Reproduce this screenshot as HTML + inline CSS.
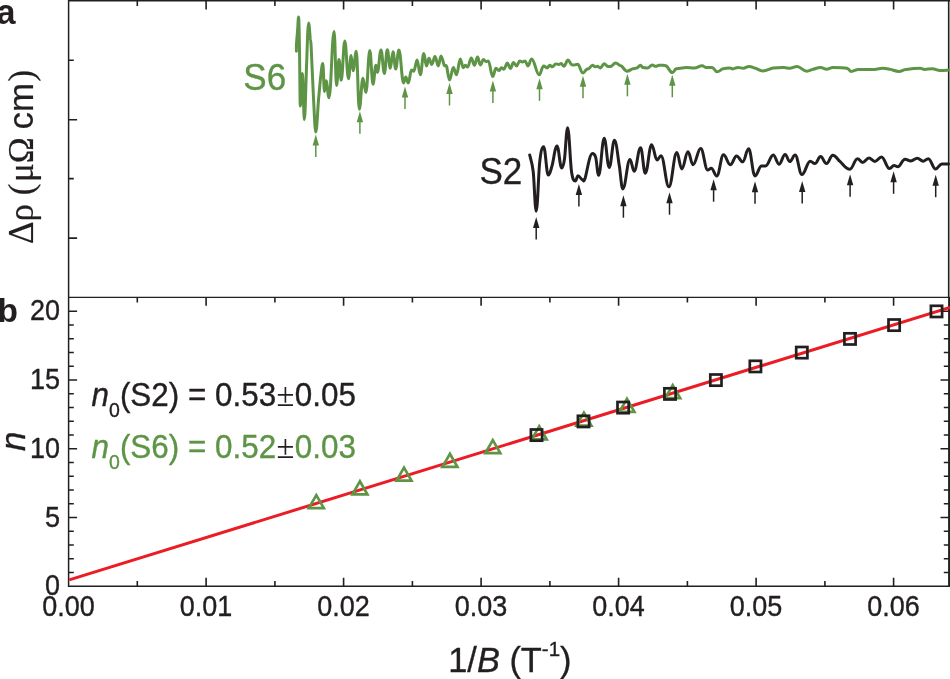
<!DOCTYPE html>
<html><head><meta charset="utf-8"><title>figure</title>
<style>html,body{margin:0;padding:0;background:#fff}svg{display:block;will-change:transform}text{font-family:"Liberation Sans",sans-serif;fill:#231f20}.g{fill:#5d9446}.i{font-style:italic}.b{font-weight:bold}.sy{font-family:"Liberation Serif",serif}</style></head><body>
<svg width="950" height="679" viewBox="0 0 950 679">
<rect width="950" height="679" fill="#fff"/>
<g stroke="#231f20" fill="none">
<path d="M68.6,0.0V587.0" stroke-width="1.5"/>
<path d="M68.6,0.5H950" stroke-width="2"/>
<path d="M68.6,297.4H950" stroke-width="1.3"/>
<path d="M68.6,586.3H950" stroke-width="1.5"/>
<path d="M948.7,0V297.3" stroke-width="1.6"/>
<path d="M949.1,297.3V587.0" stroke-width="2"/>
</g>
<path d="M137.3,586.3v-5.2M137.3,297.3v5.2M137.3,0.0v6.1M206.1,586.3v-8.5M206.1,297.3v8.5M206.1,0.0v9.4M274.9,586.3v-5.2M274.9,297.3v5.2M274.9,0.0v6.1M343.6,586.3v-8.5M343.6,297.3v8.5M343.6,0.0v9.4M412.4,586.3v-5.2M412.4,297.3v5.2M412.4,0.0v6.1M481.1,586.3v-8.5M481.1,297.3v8.5M481.1,0.0v9.4M549.9,586.3v-5.2M549.9,297.3v5.2M549.9,0.0v6.1M618.6,586.3v-8.5M618.6,297.3v8.5M618.6,0.0v9.4M687.4,586.3v-5.2M687.4,297.3v5.2M687.4,0.0v6.1M756.1,586.3v-8.5M756.1,297.3v8.5M756.1,0.0v9.4M824.9,586.3v-5.2M824.9,297.3v5.2M824.9,0.0v6.1M893.6,586.3v-8.5M893.6,297.3v8.5M893.6,0.0v9.4M68.6,60.2h5.2M68.6,119.7h8.5M68.6,178.6h5.2M68.6,238.1h8.5M68.6,572.5h5.2M949.0,572.5h-5.2M68.6,558.8h5.2M949.0,558.8h-5.2M68.6,545.0h5.2M949.0,545.0h-5.2M68.6,531.3h5.2M949.0,531.3h-5.2M68.6,517.5h8.5M949.0,517.5h-8.5M68.6,503.8h5.2M949.0,503.8h-5.2M68.6,490.0h5.2M949.0,490.0h-5.2M68.6,476.3h5.2M949.0,476.3h-5.2M68.6,462.5h5.2M949.0,462.5h-5.2M68.6,448.8h8.5M949.0,448.8h-8.5M68.6,435.0h5.2M949.0,435.0h-5.2M68.6,421.3h5.2M949.0,421.3h-5.2M68.6,407.5h5.2M949.0,407.5h-5.2M68.6,393.8h5.2M949.0,393.8h-5.2M68.6,380.0h8.5M949.0,380.0h-8.5M68.6,366.3h5.2M949.0,366.3h-5.2M68.6,352.5h5.2M949.0,352.5h-5.2M68.6,338.8h5.2M949.0,338.8h-5.2M68.6,325.0h5.2M949.0,325.0h-5.2M68.6,311.3h8.5M949.0,311.3h-8.5" stroke="#231f20" stroke-width="1.6" fill="none"/>
<path d="M296.40,51.20C296.42,50.00 296.30,47.53 296.50,44.00C296.70,40.47 297.25,34.50 297.60,30.00C297.95,25.50 298.20,17.00 298.60,17.00C298.96,17.00 299.22,35.17 299.50,50.00C299.78,64.83 299.98,106.00 300.30,106.00C300.70,106.00 300.95,95.42 301.30,90.00C301.65,84.58 301.96,73.50 302.40,73.50C302.80,73.50 303.07,92.33 303.40,100.00C303.73,107.67 304.00,119.50 304.40,119.50C305.20,119.50 305.70,86.10 306.40,70.00C307.10,53.90 307.72,22.90 308.60,22.90C309.24,22.90 309.78,34.15 310.20,38.00C310.62,41.85 310.53,35.67 311.10,46.00C311.67,56.33 312.82,85.68 313.60,100.00C314.38,114.32 314.92,131.90 315.80,131.90C316.88,131.90 317.65,109.48 318.50,100.00C319.35,90.52 320.18,81.07 320.90,75.00C321.62,68.93 322.04,63.60 322.80,63.60C323.48,63.60 323.82,91.60 324.50,91.60C325.14,91.60 325.46,80.80 326.10,80.80C327.26,80.80 327.84,97.80 329.00,97.80C331.04,97.80 332.06,31.60 334.10,31.60C335.10,31.60 335.60,85.50 336.60,85.50C337.56,85.50 338.04,59.50 339.00,59.50C339.88,59.50 340.32,80.30 341.20,80.30C342.64,80.30 343.36,40.90 344.80,40.90C346.28,40.90 347.02,78.80 348.50,78.80C349.54,78.80 350.06,55.40 351.10,55.40C351.90,55.40 352.30,70.80 353.10,70.80C354.38,70.80 355.02,51.20 356.30,51.20C357.50,51.20 358.10,109.20 359.30,109.20C360.74,109.20 361.46,78.30 362.90,78.30C364.10,78.30 364.70,92.40 365.90,92.40C367.46,92.40 368.24,50.60 369.80,50.60C371.08,50.60 371.72,84.20 373.00,84.20C374.16,84.20 374.74,65.30 375.90,65.30C376.50,65.30 376.80,72.40 377.40,72.40C378.84,72.40 379.56,50.00 381.00,50.00C382.36,50.00 383.04,73.60 384.40,73.60C385.56,73.60 386.14,49.80 387.30,49.80C388.50,49.80 389.10,68.30 390.30,68.30C391.38,68.30 391.92,51.80 393.00,51.80C394.08,51.80 394.62,68.90 395.70,68.90C396.98,68.90 397.62,50.00 398.90,50.00C400.78,50.00 401.72,83.00 403.60,83.00C404.44,83.00 404.86,77.10 405.70,77.10C406.74,77.10 407.26,83.00 408.30,83.00C409.58,83.00 410.22,70.00 411.50,70.00C412.42,70.00 412.88,71.20 413.80,71.20C415.12,71.20 415.78,60.00 417.10,60.00C418.38,60.00 419.02,74.80 420.30,74.80C421.70,74.80 422.40,53.60 423.80,53.60C424.88,53.60 425.42,65.90 426.50,65.90C427.46,65.90 427.94,58.30 428.90,58.30C430.06,58.30 430.64,64.50 431.80,64.50C433.08,64.50 433.72,56.50 435.00,56.50C436.32,56.50 436.98,65.90 438.30,65.90C439.38,65.90 439.92,56.10 441.00,56.10C442.28,56.10 443.27,63.57 444.20,65.30C445.13,67.03 445.72,64.05 446.60,66.50C447.48,68.95 448.34,80.00 449.50,80.00C451.06,80.00 451.84,67.50 453.40,67.50C454.64,67.50 455.26,74.80 456.50,74.80C458.02,74.80 458.78,58.90 460.30,58.90C461.46,58.90 462.04,67.70 463.20,67.70C464.08,67.70 464.52,65.30 465.40,65.30C466.28,65.30 466.72,67.10 467.60,67.10C469.08,67.10 469.82,57.90 471.30,57.90C472.54,57.90 473.16,65.30 474.40,65.30C475.68,65.30 476.32,57.10 477.60,57.10C478.68,57.10 479.22,65.00 480.30,65.00C481.58,65.00 482.22,59.40 483.50,59.40C484.46,59.40 484.94,61.60 485.90,61.60C486.86,61.60 487.34,60.90 488.30,60.90C490.06,60.90 490.94,76.50 492.70,76.50C494.02,76.50 494.68,68.30 496.00,68.30C497.12,68.30 497.68,70.60 498.80,70.60C499.88,70.60 500.42,67.70 501.50,67.70C502.46,67.70 502.94,69.20 503.90,69.20C505.30,69.20 506.00,63.00 507.40,63.00C508.60,63.00 509.20,68.50 510.40,68.50C511.64,68.50 512.26,62.40 513.50,62.40C514.70,62.40 515.30,65.90 516.50,65.90C517.82,65.90 518.48,61.00 519.80,61.00C520.84,61.00 521.36,62.00 522.40,62.00C523.48,62.00 524.02,60.90 525.10,60.90C526.26,60.90 526.84,65.90 528.00,65.90C529.44,65.90 530.16,58.90 531.60,58.90C534.64,58.90 536.16,74.80 539.20,74.80C540.96,74.80 541.84,65.90 543.60,65.90C545.00,65.90 545.70,67.90 547.10,67.90C548.18,67.90 548.72,65.30 549.80,65.30C550.84,65.30 551.36,66.80 552.40,66.80C553.72,66.80 554.38,63.90 555.70,63.90C556.94,63.90 557.56,64.40 558.80,64.40C559.76,64.40 560.24,63.60 561.20,63.60C562.28,63.60 562.82,66.30 563.90,66.30C565.54,66.30 566.36,60.00 568.00,60.00C569.28,60.00 570.18,63.57 571.20,64.40C572.22,65.23 572.94,65.00 574.10,65.00C575.54,65.00 576.26,64.20 577.70,64.20C579.70,64.20 580.70,73.00 582.70,73.00C584.22,73.00 585.47,70.23 586.50,69.50C587.53,68.77 587.88,69.30 588.90,68.60C589.92,67.90 591.12,65.30 592.60,65.30C593.68,65.30 594.22,66.80 595.30,66.80C596.10,66.80 596.50,66.30 597.30,66.30C598.54,66.30 599.16,67.90 600.40,67.90C601.92,67.90 602.68,63.80 604.20,63.80C605.84,63.80 606.66,66.50 608.30,66.50C609.46,66.50 609.97,66.88 611.20,66.30C612.43,65.72 613.90,63.00 615.70,63.00C617.22,63.00 618.48,64.75 619.50,65.30C620.52,65.85 620.53,65.32 621.80,66.30C623.07,67.28 624.98,71.20 627.10,71.20C629.22,71.20 630.72,69.45 632.40,68.90C634.08,68.35 635.85,68.50 637.20,67.90C638.55,67.30 639.18,65.30 640.50,65.30C641.50,65.30 641.83,67.07 643.00,67.50C644.17,67.93 645.70,67.90 647.50,67.90C649.42,67.90 650.38,65.00 652.30,65.00C653.62,65.00 654.28,66.30 655.60,66.30C657.00,66.30 657.70,65.30 659.10,65.30C661.94,65.30 664.00,64.68 666.20,65.90C668.40,67.12 669.86,72.60 672.30,72.60C673.74,72.60 674.57,69.62 675.90,68.90C677.23,68.18 678.58,68.53 680.30,68.30C682.02,68.07 683.84,67.50 686.20,67.50C689.52,67.50 691.18,67.90 694.50,67.90C697.54,67.90 699.06,65.70 702.10,65.70C703.74,65.70 704.56,67.50 706.20,67.50C708.56,67.50 709.74,67.50 712.10,67.50C714.10,67.50 715.10,71.80 717.10,71.80C719.34,71.80 720.58,69.55 722.70,68.90C724.82,68.25 726.96,67.90 729.80,67.90C730.96,67.90 731.54,68.90 732.70,68.90C734.82,68.90 735.88,67.50 738.00,67.50C740.12,67.50 741.18,68.30 743.30,68.30C745.50,68.30 746.60,66.50 748.80,66.50C751.48,66.50 753.17,67.57 755.50,68.30C757.83,69.03 759.88,70.90 762.80,70.90C766.96,70.90 769.63,68.65 773.20,68.10C776.77,67.55 779.80,67.60 784.20,67.60C786.40,67.60 787.50,68.30 789.70,68.30C792.62,68.30 794.08,66.50 797.00,66.50C800.92,66.50 802.88,71.20 806.80,71.20C809.24,71.20 810.58,70.00 812.90,69.40C815.22,68.80 817.58,67.60 820.70,67.60C823.06,67.60 824.24,69.20 826.60,69.20C829.08,69.20 830.32,67.60 832.80,67.60C838.40,67.60 843.73,67.67 846.80,68.30C849.87,68.93 849.44,71.40 851.20,71.40C854.04,71.40 855.46,69.40 858.30,69.40C864.02,69.40 866.88,69.60 872.60,69.60C876.60,69.60 878.60,68.30 882.60,68.30C885.68,68.30 887.53,68.88 890.30,69.40C893.07,69.92 895.64,71.40 899.20,71.40C901.84,71.40 902.30,70.12 905.80,69.60C909.30,69.08 914.44,68.30 920.20,68.30C921.96,68.30 922.84,69.40 924.60,69.40C927.68,69.40 929.22,68.70 932.30,68.70C935.38,68.70 936.92,70.50 940.00,70.50C943.40,70.50 947.08,70.17 948.50,70.10" stroke="#5d9446" stroke-width="3.0" fill="none" stroke-linejoin="round" stroke-linecap="round"/>
<path d="M529.70,155.00C530.28,157.75 532.12,162.13 533.20,171.50C534.28,180.87 535.00,211.20 536.20,211.20C537.60,211.20 538.47,172.83 539.70,162.10C540.93,151.37 542.04,146.80 543.60,146.80C545.48,146.80 546.42,175.10 548.30,175.10C549.82,175.10 550.65,170.47 552.10,165.60C553.55,160.73 555.04,145.90 557.00,145.90C558.88,145.90 559.82,168.00 561.70,168.00C562.82,168.00 563.52,165.72 564.50,159.00C565.48,152.28 566.36,127.70 567.60,127.70C569.16,127.70 570.20,162.62 571.50,171.50C572.80,180.38 573.84,181.00 575.40,181.00C576.44,181.00 576.96,175.70 578.00,175.70C579.88,175.70 580.82,179.80 582.70,179.80C583.62,179.80 583.38,182.88 585.00,178.50C586.62,174.12 589.44,153.50 592.40,153.50C593.72,153.50 594.67,153.77 595.70,157.40C596.73,161.03 597.44,175.30 598.60,175.30C600.84,175.30 601.96,138.30 604.20,138.30C606.20,138.30 607.20,167.40 609.20,167.40C611.32,167.40 612.38,140.30 614.50,140.30C616.38,140.30 617.82,156.90 619.20,165.00C620.58,173.10 621.36,188.90 622.80,188.90C625.68,188.90 627.12,159.40 630.00,159.40C631.64,159.40 632.46,171.20 634.10,171.20C636.70,171.20 638.00,147.70 640.60,147.70C642.48,147.70 643.42,173.30 645.30,173.30C647.82,173.30 649.08,144.70 651.60,144.70C653.80,144.70 654.90,160.00 657.10,160.00C658.66,160.00 659.44,155.70 661.00,155.70C664.16,155.70 665.74,186.80 668.90,186.80C672.06,186.80 673.64,152.60 676.80,152.60C678.80,152.60 679.80,168.90 681.80,168.90C684.28,168.90 685.52,151.80 688.00,151.80C690.00,151.80 691.00,164.70 693.00,164.70C696.08,164.70 697.62,148.50 700.70,148.50C703.50,148.50 704.90,170.00 707.70,170.00C709.14,170.00 709.86,168.30 711.30,168.30C713.50,168.30 714.60,175.90 716.80,175.90C719.48,175.90 720.82,154.70 723.50,154.70C726.22,154.70 727.58,164.70 730.30,164.70C732.82,164.70 734.08,155.90 736.60,155.90C739.04,155.90 740.26,161.80 742.70,161.80C745.06,161.80 746.24,148.80 748.60,148.80C751.16,148.80 752.44,175.90 755.00,175.90C757.60,175.90 758.90,165.90 761.50,165.90C763.14,165.90 763.96,165.90 765.60,165.90C768.68,165.90 770.22,155.00 773.30,155.00C775.58,155.00 776.72,164.20 779.00,164.20C781.44,164.20 782.66,154.50 785.10,154.50C786.98,154.50 787.92,161.60 789.80,161.60C791.92,161.60 792.98,155.00 795.10,155.00C797.82,155.00 799.18,174.50 801.90,174.50C805.22,174.50 806.88,161.20 810.20,161.20C812.08,161.20 813.02,163.60 814.90,163.60C817.18,163.60 818.32,156.50 820.60,156.50C822.96,156.50 824.14,163.60 826.50,163.60C829.02,163.60 830.28,155.30 832.80,155.30C835.76,155.30 837.37,159.37 840.20,161.70C843.03,164.03 845.96,169.30 849.80,169.30C852.88,169.30 854.42,158.70 857.50,158.70C859.54,158.70 860.56,162.40 862.60,162.40C865.12,162.40 866.38,158.00 868.90,158.00C871.26,158.00 872.44,161.40 874.80,161.40C877.48,161.40 878.82,157.00 881.50,157.00C884.74,157.00 886.36,168.60 889.60,168.60C891.36,168.60 892.24,165.40 894.00,165.40C895.48,165.40 896.22,166.80 897.70,166.80C900.62,166.80 902.08,159.20 905.00,159.20C907.36,159.20 908.54,160.90 910.90,160.90C913.46,160.90 914.74,158.30 917.30,158.30C919.66,158.30 920.84,161.20 923.20,161.20C925.24,161.20 926.26,158.70 928.30,158.70C931.22,158.70 932.68,169.00 935.60,169.00C938.12,169.00 939.38,163.90 941.90,163.90C944.54,163.90 947.40,163.90 948.50,163.90" stroke="#231f20" stroke-width="3.0" fill="none" stroke-linejoin="round" stroke-linecap="round"/>
<path d="M315.8,134.4L312.6,145.4L319.0,145.4Z" fill="#5d9446"/><line x1="315.8" y1="144.4" x2="315.8" y2="156.9" stroke="#5d9446" stroke-width="1.5"/>
<path d="M359.9,111.2L356.7,122.2L363.1,122.2Z" fill="#5d9446"/><line x1="359.9" y1="121.2" x2="359.9" y2="133.7" stroke="#5d9446" stroke-width="1.5"/>
<path d="M405.0,86.5L401.8,97.5L408.2,97.5Z" fill="#5d9446"/><line x1="405.0" y1="96.5" x2="405.0" y2="109.0" stroke="#5d9446" stroke-width="1.5"/>
<path d="M449.5,83.0L446.3,94.0L452.7,94.0Z" fill="#5d9446"/><line x1="449.5" y1="93.0" x2="449.5" y2="105.5" stroke="#5d9446" stroke-width="1.5"/>
<path d="M492.9,80.6L489.7,91.6L496.1,91.6Z" fill="#5d9446"/><line x1="492.9" y1="90.6" x2="492.9" y2="103.1" stroke="#5d9446" stroke-width="1.5"/>
<path d="M539.5,78.3L536.3,89.3L542.7,89.3Z" fill="#5d9446"/><line x1="539.5" y1="88.3" x2="539.5" y2="100.8" stroke="#5d9446" stroke-width="1.5"/>
<path d="M583.0,75.7L579.8,86.7L586.2,86.7Z" fill="#5d9446"/><line x1="583.0" y1="85.7" x2="583.0" y2="98.2" stroke="#5d9446" stroke-width="1.5"/>
<path d="M627.4,73.8L624.2,84.8L630.6,84.8Z" fill="#5d9446"/><line x1="627.4" y1="83.8" x2="627.4" y2="96.3" stroke="#5d9446" stroke-width="1.5"/>
<path d="M672.3,74.8L669.1,85.8L675.5,85.8Z" fill="#5d9446"/><line x1="672.3" y1="84.8" x2="672.3" y2="97.3" stroke="#5d9446" stroke-width="1.5"/>
<path d="M536.2,217.1L533.0,228.1L539.4,228.1Z" fill="#231f20"/><line x1="536.2" y1="227.1" x2="536.2" y2="239.6" stroke="#231f20" stroke-width="1.5"/>
<path d="M578.9,184.1L575.7,195.1L582.1,195.1Z" fill="#231f20"/><line x1="578.9" y1="194.1" x2="578.9" y2="206.6" stroke="#231f20" stroke-width="1.5"/>
<path d="M623.4,195.2L620.2,206.2L626.6,206.2Z" fill="#231f20"/><line x1="623.4" y1="205.2" x2="623.4" y2="217.7" stroke="#231f20" stroke-width="1.5"/>
<path d="M669.5,192.2L666.3,203.2L672.7,203.2Z" fill="#231f20"/><line x1="669.5" y1="202.2" x2="669.5" y2="214.7" stroke="#231f20" stroke-width="1.5"/>
<path d="M713.6,179.2L710.4,190.2L716.8,190.2Z" fill="#231f20"/><line x1="713.6" y1="189.2" x2="713.6" y2="201.7" stroke="#231f20" stroke-width="1.5"/>
<path d="M755.0,181.2L751.8,192.2L758.2,192.2Z" fill="#231f20"/><line x1="755.0" y1="191.2" x2="755.0" y2="203.7" stroke="#231f20" stroke-width="1.5"/>
<path d="M802.2,180.9L799.0,191.9L805.4,191.9Z" fill="#231f20"/><line x1="802.2" y1="190.9" x2="802.2" y2="203.4" stroke="#231f20" stroke-width="1.5"/>
<path d="M850.1,174.2L846.9,185.2L853.3,185.2Z" fill="#231f20"/><line x1="850.1" y1="184.2" x2="850.1" y2="196.7" stroke="#231f20" stroke-width="1.5"/>
<path d="M893.6,171.3L890.4,182.3L896.8,182.3Z" fill="#231f20"/><line x1="893.6" y1="181.3" x2="893.6" y2="193.8" stroke="#231f20" stroke-width="1.5"/>
<path d="M935.7,174.7L932.5,185.7L938.9,185.7Z" fill="#231f20"/><line x1="935.7" y1="184.7" x2="935.7" y2="197.2" stroke="#231f20" stroke-width="1.5"/>
<line x1="69.2" y1="579.9" x2="950.0" y2="307.4" stroke="#ec1c24" stroke-width="3.0"/>
<path d="M316.3,495.1L308.8,508.1L323.8,508.1Z" fill="none" stroke="#5d9446" stroke-width="2.7" stroke-linejoin="miter"/>
<path d="M359.9,481.3L352.4,494.3L367.4,494.3Z" fill="none" stroke="#5d9446" stroke-width="2.7" stroke-linejoin="miter"/>
<path d="M404.0,467.6L396.5,480.6L411.5,480.6Z" fill="none" stroke="#5d9446" stroke-width="2.7" stroke-linejoin="miter"/>
<path d="M449.9,453.8L442.4,466.8L457.4,466.8Z" fill="none" stroke="#5d9446" stroke-width="2.7" stroke-linejoin="miter"/>
<path d="M492.8,440.1L485.3,453.1L500.3,453.1Z" fill="none" stroke="#5d9446" stroke-width="2.7" stroke-linejoin="miter"/>
<path d="M539.2,426.3L531.7,439.3L546.7,439.3Z" fill="none" stroke="#5d9446" stroke-width="2.7" stroke-linejoin="miter"/>
<path d="M583.9,412.6L576.4,425.6L591.4,425.6Z" fill="none" stroke="#5d9446" stroke-width="2.7" stroke-linejoin="miter"/>
<path d="M626.9,398.8L619.4,411.8L634.4,411.8Z" fill="none" stroke="#5d9446" stroke-width="2.7" stroke-linejoin="miter"/>
<path d="M672.7,385.1L665.2,398.1L680.2,398.1Z" fill="none" stroke="#5d9446" stroke-width="2.7" stroke-linejoin="miter"/>
<rect x="530.9" y="429.5" width="11.2" height="11.2" fill="none" stroke="#231f20" stroke-width="2.7"/>
<rect x="577.9" y="415.8" width="11.2" height="11.2" fill="none" stroke="#231f20" stroke-width="2.7"/>
<rect x="617.5" y="402.0" width="11.2" height="11.2" fill="none" stroke="#231f20" stroke-width="2.7"/>
<rect x="664.4" y="388.3" width="11.2" height="11.2" fill="none" stroke="#231f20" stroke-width="2.7"/>
<rect x="710.3" y="374.5" width="11.2" height="11.2" fill="none" stroke="#231f20" stroke-width="2.7"/>
<rect x="749.8" y="360.8" width="11.2" height="11.2" fill="none" stroke="#231f20" stroke-width="2.7"/>
<rect x="796.2" y="347.0" width="11.2" height="11.2" fill="none" stroke="#231f20" stroke-width="2.7"/>
<rect x="844.4" y="333.3" width="11.2" height="11.2" fill="none" stroke="#231f20" stroke-width="2.7"/>
<rect x="888.5" y="319.5" width="11.2" height="11.2" fill="none" stroke="#231f20" stroke-width="2.7"/>
<rect x="930.9" y="305.8" width="11.2" height="11.2" fill="none" stroke="#231f20" stroke-width="2.7"/>
<text transform="translate(68.4,616.4) scale(1,1.065)" font-size="27.0" text-anchor="middle" stroke="#231f20" stroke-width="0.35">0.00</text>
<text transform="translate(205.9,616.4) scale(1,1.065)" font-size="27.0" text-anchor="middle" stroke="#231f20" stroke-width="0.35">0.01</text>
<text transform="translate(343.4,616.4) scale(1,1.065)" font-size="27.0" text-anchor="middle" stroke="#231f20" stroke-width="0.35">0.02</text>
<text transform="translate(480.9,616.4) scale(1,1.065)" font-size="27.0" text-anchor="middle" stroke="#231f20" stroke-width="0.35">0.03</text>
<text transform="translate(618.4,616.4) scale(1,1.065)" font-size="27.0" text-anchor="middle" stroke="#231f20" stroke-width="0.35">0.04</text>
<text transform="translate(755.9,616.4) scale(1,1.065)" font-size="27.0" text-anchor="middle" stroke="#231f20" stroke-width="0.35">0.05</text>
<text transform="translate(893.4,616.4) scale(1,1.065)" font-size="27.0" text-anchor="middle" stroke="#231f20" stroke-width="0.35">0.06</text>
<text transform="translate(59.9,595.4) scale(1,1.065)" font-size="27.0" text-anchor="end" stroke="#231f20" stroke-width="0.35">0</text>
<text transform="translate(59.9,526.6) scale(1,1.065)" font-size="27.0" text-anchor="end" stroke="#231f20" stroke-width="0.35">5</text>
<text transform="translate(59.9,457.9) scale(1,1.065)" font-size="27.0" text-anchor="end" stroke="#231f20" stroke-width="0.35">10</text>
<text transform="translate(59.9,389.1) scale(1,1.065)" font-size="27.0" text-anchor="end" stroke="#231f20" stroke-width="0.35">15</text>
<text transform="translate(59.9,320.4) scale(1,1.065)" font-size="27.0" text-anchor="end" stroke="#231f20" stroke-width="0.35">20</text>
<text transform="translate(-3.4,24.4) scale(1,1.000)" font-size="34.2" text-anchor="start" class="b" stroke="#231f20" stroke-width="0.00">a</text>
<text transform="translate(-2.5,322.0) scale(1,1.000)" font-size="33.5" text-anchor="start" class="b" stroke="#231f20" stroke-width="0.00">b</text>
<text transform="translate(243.3,90.0) scale(1,1.050)" font-size="35.0" text-anchor="start" class="g" stroke="#5d9446" stroke-width="0.35">S6</text>
<text transform="translate(479.4,184.0) scale(1,1.050)" font-size="35.0" text-anchor="start" stroke="#231f20" stroke-width="0.35">S2</text>
<text transform="translate(91.6,405.9) scale(1,1.050)" font-size="31.4" text-anchor="start" stroke="#231f20" stroke-width="0.35"><tspan class="i">n</tspan><tspan font-size="19.5" dy="11">0</tspan><tspan dy="-11">(S2) = 0.53</tspan><tspan class="sy" stroke-width="0" dx="0.4" font-size="32.5">±</tspan><tspan dx="0.5">0.05</tspan></text>
<text transform="translate(91.6,457.5) scale(1,1.050)" font-size="31.4" text-anchor="start" class="g" stroke="#5d9446" stroke-width="0.35"><tspan class="i">n</tspan><tspan font-size="19.5" dy="11">0</tspan><tspan dy="-11">(S6) = 0.52</tspan><tspan class="sy" style="fill:#231f20" stroke-width="0" dx="0.4" font-size="32.5">±</tspan><tspan dx="0.5">0.03</tspan></text>
<text transform="translate(32.7,244.0) rotate(-90) scale(1,1.000)" font-size="35.0" text-anchor="start" stroke="#231f20" stroke-width="0.20"><tspan class="sy">Δρ (<tspan dx="1.5">μΩ</tspan></tspan><tspan dx="-2"> cm</tspan><tspan class="sy" dx="1.5">)</tspan></text>
<text transform="translate(24.8,451.0) rotate(-90) scale(1,1.000)" font-size="35.0" text-anchor="start" class="i" stroke="#231f20" stroke-width="0.35">n</text>
<text transform="translate(448.2,671.6) scale(1,1.030)" font-size="34.4" text-anchor="start" stroke="#231f20" stroke-width="0.35">1/<tspan class="i">B</tspan> (T<tspan font-size="20.5" dy="-15">-1</tspan><tspan dy="15">)</tspan></text>
</svg></body></html>
